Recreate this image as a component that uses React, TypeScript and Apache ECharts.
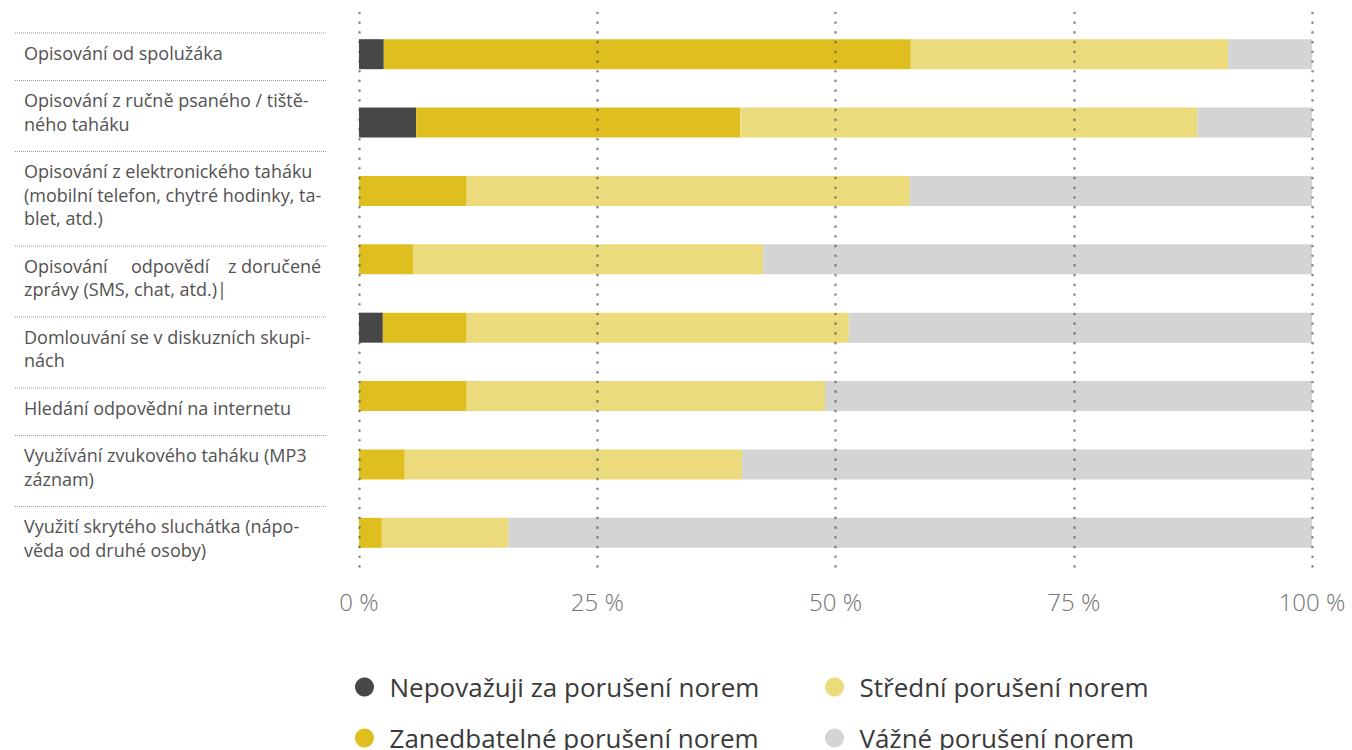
import React, { useEffect, useRef } from "react";
import * as echarts from "echarts";

const categories = [
  "Opisování od spolužáka",
  "Opisování z ručně psaného / tiště-\nného taháku",
  "Opisování z elektronického taháku\n(mobilní telefon, chytré hodinky, ta-\nblet, atd.)",
  "Opisování     odpovědí    z doručené\nzprávy (SMS, chat, atd.)|",
  "Domlouvání se v diskuzních skupi-\nnách",
  "Hledání odpovědní na internetu",
  "Využívání zvukového taháku (MP3\nzáznam)",
  "Využití skrytého sluchátka (nápo-\nvěda od druhé osoby)",
];

const seriesNames = [
  "Nepovažuji za porušení norem",
  "Zanedbatelné porušení norem",
  "Střední porušení norem",
  "Vážné porušení norem",
];

const nepovazuji = [2.6, 6.0, 0, 0, 2.5, 0, 0, 0];
const zanedbatelne = [55.3, 34.0, 11.3, 5.7, 8.8, 11.3, 4.8, 2.4];
const stredni = [33.3, 48.0, 46.5, 36.7, 40.1, 37.6, 35.4, 13.3];
const vazne = [8.8, 12.0, 42.2, 57.6, 48.6, 51.1, 59.8, 84.3];

const colors = ["#474747", "#dfbf20", "#ebdb7c", "#d4d4d4"];

const axisTicks = { min: 0, max: 100, interval: 25 };

export default function App() {
  const ref = useRef<HTMLDivElement>(null);

  useEffect(() => {
    if (!ref.current) return;
    const chart = echarts.init(ref.current, undefined, { renderer: "svg" });

    const FONT = "'Open Sans', 'Noto Sans', sans-serif";
    const LINE_H = 23.5;
    const graphics: any[] = [];
    let sepY = 33;
    categories.forEach((c) => {
      const lines = c.split("\n").length;
      graphics.push({
        type: "line",
        shape: { x1: 15, y1: sepY, x2: 327, y2: sepY },
        style: { stroke: "#9a9a9a", lineWidth: 1, lineDash: [1, 1] },
        silent: true,
      });
      graphics.push({
        type: "text",
        x: 24,
        y: sepY + 8,
        style: {
          text: c,
          fontSize: 18,
          fontFamily: FONT,
          fill: "#525252",
          lineHeight: LINE_H,
          verticalAlign: "top",
          align: "left",
        },
        silent: true,
      });
      sepY += 24 + LINE_H * lines;
    });

    const data = [nepovazuji, zanedbatelne, stredni, vazne];

    // legend placement: [left, top] per series
    const legendPos = [
      [355, 673],
      [355, 724],
      [825, 673],
      [825, 724],
    ];

    chart.setOption({
      animation: false,
      backgroundColor: "#ffffff",
      grid: [
        { left: 359, width: 953, top: 20, height: 547, containLabel: false },
        { left: 359, width: 953, top: 13, height: 557, containLabel: false },
      ],
      xAxis: [
        {
          gridIndex: 0,
          type: "value",
          min: axisTicks.min,
          max: axisTicks.max,
          show: false,
        },
        {
          gridIndex: 1,
          type: "value",
          min: axisTicks.min,
          max: axisTicks.max,
          interval: axisTicks.interval,
          z: 5,
          axisLine: { show: false },
          axisTick: { show: false },
          axisLabel: {
            formatter: "{value} %",
            fontSize: 24,
            fontFamily: FONT,
            fontWeight: 300,
            color: "#737373",
            margin: 19,
          },
          splitLine: {
            show: true,
            lineStyle: {
              color: "rgba(75,75,75,0.62)",
              width: 2.7,
              type: [0.01, 9.7],
              cap: "round",
            },
          },
        },
      ],
      yAxis: [
        {
          gridIndex: 0,
          type: "category",
          data: categories,
          inverse: true,
          show: false,
        },
        { gridIndex: 1, type: "value", show: false },
      ],
      legend: seriesNames.map((n, i) => ({
        left: legendPos[i][0],
        top: legendPos[i][1],
        padding: 0,
        orient: "horizontal",
        icon: "circle",
        itemWidth: 40,
        itemHeight: 19,
        data: [n],
        textStyle: { fontSize: 26, fontFamily: FONT, color: "#3a3a3a", lineHeight: 28 },
        selectedMode: false,
      })),
      graphic: graphics,
      series: seriesNames.map((name, i) => ({
        name,
        type: "bar",
        stack: "total",
        xAxisIndex: 0,
        yAxisIndex: 0,
        barWidth: 30,
        itemStyle: { color: colors[i] },
        emphasis: { disabled: true },
        data: data[i],
      })),
    });

    return () => chart.dispose();
  }, []);

  return (
    <div
      ref={ref}
      style={{ position: "fixed", left: 0, top: 0, width: 1352, height: 750 }}
    />
  );
}
